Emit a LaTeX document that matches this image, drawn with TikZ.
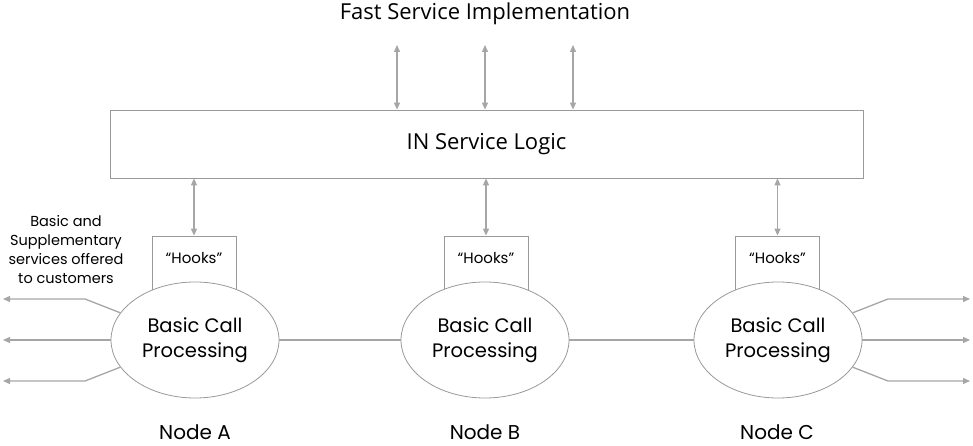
\documentclass[tikz,border=0pt]{standalone}
\usepackage{fontspec}
\setmainfont{Poppins}
\newfontfamily\topfont{Open Sans}
\usetikzlibrary{arrows.meta,shapes.geometric}
\definecolor{ln}{HTML}{A6A6A6}
\definecolor{bd}{HTML}{999999}
\begin{document}
\begin{tikzpicture}[x=1pt,y=-1pt,
  conn/.style={draw=ln,line width=1.3pt},
  arr/.style={conn,-{Triangle[length=7pt,width=6pt]}},
  biarr/.style={conn,{Triangle[length=7pt,width=6pt]}-{Triangle[length=7pt,width=6pt]}},
  hookbox/.style={draw=bd,line width=0.8pt,minimum width=84pt,minimum height=56pt,inner sep=0pt},
  bcp/.style={ellipse,draw=bd,line width=0.8pt,fill=white,minimum width=168pt,minimum height=116pt,inner sep=0pt,align=center,font=\fontsize{19.5}{25}\selectfont},
  lbl/.style={font=\fontsize{20}{24}\selectfont},
  hk/.style={font=\fontsize{15}{18}\selectfont}]
\useasboundingbox (0,0) rectangle (973,446);
\node[font=\topfont\fontsize{22}{26}\selectfont] (fsi) at (485,14) {Fast Service Implementation};
\node[draw=bd,line width=0.8pt,minimum width=753pt,minimum height=68pt,inner sep=0pt,font=\topfont\fontsize{22}{26}\selectfont] (isl) at (486.5,144) {IN Service Logic};
\coordinate (t1) at (397,45); \coordinate (t2) at (485,45); \coordinate (t3) at (573,45);
\draw[biarr] (t1) -- (t1 |- isl.north);
\draw[biarr] (t2) -- (t2 |- isl.north);
\draw[biarr] (t3) -- (t3 |- isl.north);
% hooks boxes
\node[hookbox] (ha) at (194,264) {};
\node[hookbox] (hb) at (486,264) {};
\node[hookbox] (hc) at (777.5,264) {};
\node[hk] (hat) at (194,258) {“Hooks”};
\node[hk] (hbt) at (486,258) {“Hooks”};
\node[hk] (hct) at (777.5,258) {“Hooks”};
\draw[biarr] (ha.north |- isl.south) -- (ha.north);
\draw[biarr] (hb.north |- isl.south) -- (hb.north);
\draw[biarr] (hc.north |- isl.south) -- (hc.north);
% ellipses
\node[bcp] (ea) at (195,340) {Basic Call\\Processing};
\node[bcp] (eb) at (485,340) {Basic Call\\Processing};
\node[bcp] (ec) at (778,340) {Basic Call\\Processing};
\draw[conn] (ea.east) -- (eb.west);
\draw[conn] (eb.east) -- (ec.west);
% left arrows
\coordinate (l1) at (3,299); \coordinate (l2) at (3,340); \coordinate (l3) at (3,381);
\draw[arr] (ea.160) -- (85,299) -- (l1);
\draw[arr] (ea.west) -- (l2);
\draw[arr] (ea.200) -- (85,381) -- (l3);
% right arrows
\coordinate (r1) at (970,299); \coordinate (r2) at (970,340); \coordinate (r3) at (970,381);
\draw[arr] (ec.20) -- (888,299) -- (r1);
\draw[arr] (ec.east) -- (r2);
\draw[arr] (ec.-20) -- (888,381) -- (r3);
% labels
\node[align=center,font=\fontsize{14.5}{19}\selectfont] (svc) at (66,250) {Basic and\\Supplementary\\services offered\\to customers};
\node[lbl] (na) at (195,432) {Node A};
\node[lbl] (nb) at (485,432) {Node B};
\node[lbl] (nc) at (777,432) {Node C};
\end{tikzpicture}
\end{document}
